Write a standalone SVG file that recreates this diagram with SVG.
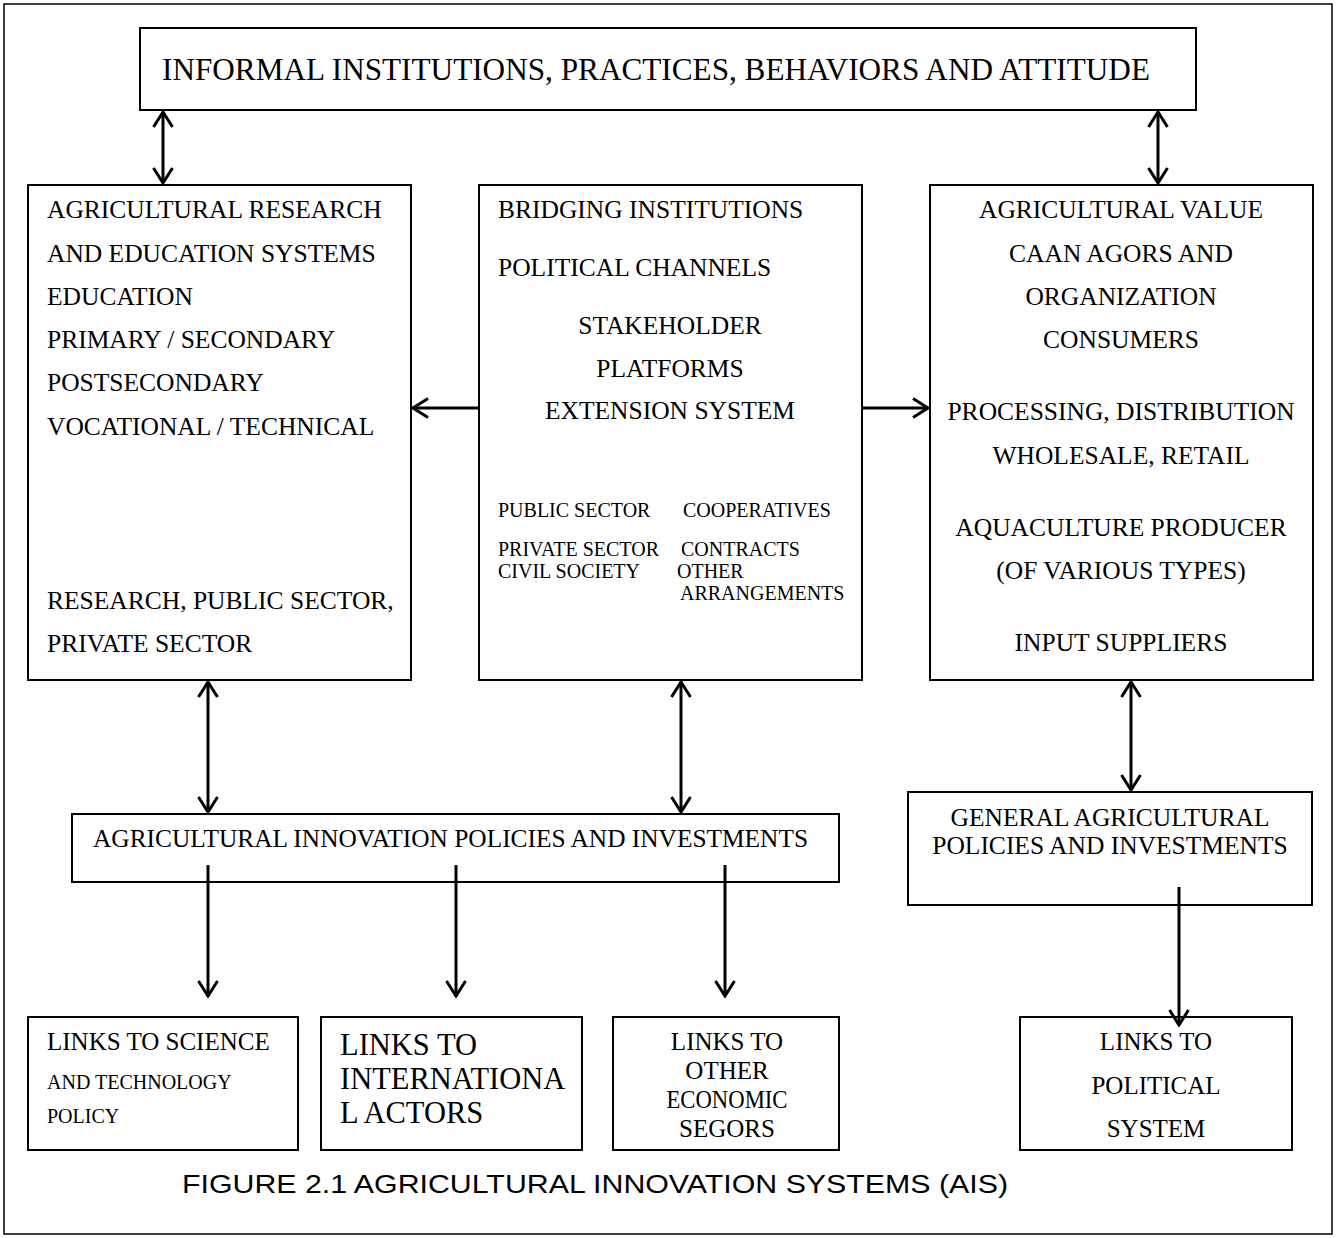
<svg xmlns="http://www.w3.org/2000/svg" width="1336" height="1238" viewBox="0 0 1336 1238">
<style>
.box{fill:#fff;stroke:#000;stroke-width:2}
.t{font-family:"Liberation Serif","Times New Roman",serif;fill:#000}
.m{font-size:25.5px}
.s{font-size:20px}
.c{text-anchor:middle}
.conn{stroke:#000;stroke-width:3;fill:none}
</style>
<defs>
<marker id="ah" viewBox="0 0 20 22" refX="18" refY="11" markerWidth="20" markerHeight="22" markerUnits="userSpaceOnUse" orient="auto-start-reverse">
<path d="M3,1.5 L18,11 L3,20.5" fill="none" stroke="#000" stroke-width="3"/>
</marker>
</defs>
<rect x="0" y="0" width="1336" height="1238" fill="#fff"/>
<rect id="frame" x="4" y="4" width="1328" height="1230" fill="none" stroke="#000" stroke-width="1.5"/>

<g id="informal">
<rect class="box" x="140" y="28" width="1056" height="82"/>
<text class="t" x="162" y="80" font-size="30.5" textLength="988" lengthAdjust="spacingAndGlyphs">INFORMAL INSTITUTIONS, PRACTICES, BEHAVIORS AND ATTITUDE</text>
</g>

<g id="research">
<rect class="box" x="28" y="185" width="383" height="495"/>
<text class="t m" x="47" y="218">AGRICULTURAL RESEARCH</text>
<text class="t m" x="47" y="262">AND EDUCATION SYSTEMS</text>
<text class="t m" x="47" y="305">EDUCATION</text>
<text class="t m" x="47" y="348">PRIMARY / SECONDARY</text>
<text class="t m" x="47" y="391">POSTSECONDARY</text>
<text class="t m" x="47" y="435">VOCATIONAL / TECHNICAL</text>
<text class="t m" x="47" y="609">RESEARCH, PUBLIC SECTOR,</text>
<text class="t m" x="47" y="652">PRIVATE SECTOR</text>
</g>

<g id="bridging">
<rect class="box" x="479" y="185" width="383" height="495"/>
<text class="t m" x="498" y="218">BRIDGING INSTITUTIONS</text>
<text class="t m" x="498" y="276">POLITICAL CHANNELS</text>
<text class="t m c" x="670" y="334">STAKEHOLDER</text>
<text class="t m c" x="670" y="377">PLATFORMS</text>
<text class="t m c" x="670" y="419">EXTENSION SYSTEM</text>
<text class="t s" x="498" y="517">PUBLIC SECTOR</text>
<text class="t s" x="683" y="517">COOPERATIVES</text>
<text class="t s" x="498" y="556">PRIVATE SECTOR</text>
<text class="t s" x="681" y="556">CONTRACTS</text>
<text class="t s" x="498" y="578">CIVIL SOCIETY</text>
<text class="t s" x="677" y="578">OTHER</text>
<text class="t s" x="680" y="600">ARRANGEMENTS</text>
</g>

<g id="value">
<rect class="box" x="930" y="185" width="383" height="495"/>
<text class="t m c" x="1121" y="218">AGRICULTURAL VALUE</text>
<text class="t m c" x="1121" y="262">CAAN AGORS AND</text>
<text class="t m c" x="1121" y="305">ORGANIZATION</text>
<text class="t m c" x="1121" y="348">CONSUMERS</text>
<text class="t m c" x="1121" y="420">PROCESSING, DISTRIBUTION</text>
<text class="t m c" x="1121" y="464">WHOLESALE, RETAIL</text>
<text class="t m c" x="1121" y="536">AQUACULTURE PRODUCER</text>
<text class="t m c" x="1121" y="579">(OF VARIOUS TYPES)</text>
<text class="t m c" x="1121" y="651">INPUT SUPPLIERS</text>
</g>

<g id="innovation-policies">
<rect class="box" x="72" y="814" width="767" height="68"/>
<text class="t" x="93" y="847" font-size="25" textLength="715" lengthAdjust="spacingAndGlyphs">AGRICULTURAL INNOVATION POLICIES AND INVESTMENTS</text>
</g>

<g id="general-policies">
<rect class="box" x="908" y="792" width="404" height="113"/>
<text class="t m c" x="1110" y="826">GENERAL AGRICULTURAL</text>
<text class="t m c" x="1110" y="854">POLICIES AND INVESTMENTS</text>
</g>

<g id="links-science">
<rect class="box" x="28" y="1017" width="270" height="133"/>
<text class="t" x="47" y="1050" font-size="25">LINKS TO SCIENCE</text>
<text class="t s" x="47" y="1089">AND TECHNOLOGY</text>
<text class="t s" x="47" y="1123">POLICY</text>
</g>

<g id="links-international">
<rect class="box" x="321" y="1017" width="261" height="133"/>
<text class="t" x="340" y="1055" font-size="30.5">LINKS TO</text>
<text class="t" x="340" y="1089" font-size="30.5">INTERNATIONA</text>
<text class="t" x="340" y="1123" font-size="30.5">L ACTORS</text>
</g>

<g id="links-economic">
<rect class="box" x="613" y="1017" width="226" height="133"/>
<text class="t c" x="727" y="1050" font-size="25">LINKS TO</text>
<text class="t c" x="727" y="1079" font-size="25">OTHER</text>
<text class="t c" x="727" y="1108" font-size="25" textLength="121" lengthAdjust="spacingAndGlyphs">ECONOMIC</text>
<text class="t c" x="727" y="1137" font-size="25">SEGORS</text>
</g>

<g id="links-political">
<rect class="box" x="1020" y="1017" width="272" height="133"/>
<text class="t c" x="1156" y="1050" font-size="25">LINKS TO</text>
<text class="t c" x="1156" y="1094" font-size="25">POLITICAL</text>
<text class="t c" x="1156" y="1137" font-size="25">SYSTEM</text>
</g>

<g id="connectors">
<line class="conn" x1="163" y1="112" x2="163" y2="183" marker-start="url(#ah)" marker-end="url(#ah)"/>
<line class="conn" x1="1158" y1="112" x2="1158" y2="183" marker-start="url(#ah)" marker-end="url(#ah)"/>
<line class="conn" x1="479" y1="408" x2="413" y2="408" marker-end="url(#ah)"/>
<line class="conn" x1="862" y1="408" x2="928" y2="408" marker-end="url(#ah)"/>
<line class="conn" x1="208" y1="682" x2="208" y2="812" marker-start="url(#ah)" marker-end="url(#ah)"/>
<line class="conn" x1="681" y1="682" x2="681" y2="812" marker-start="url(#ah)" marker-end="url(#ah)"/>
<line class="conn" x1="1131" y1="682" x2="1131" y2="790" marker-start="url(#ah)" marker-end="url(#ah)"/>
<line class="conn" x1="208" y1="865" x2="208" y2="996" marker-end="url(#ah)"/>
<line class="conn" x1="456" y1="865" x2="456" y2="996" marker-end="url(#ah)"/>
<line class="conn" x1="725" y1="865" x2="725" y2="996" marker-end="url(#ah)"/>
<line class="conn" x1="1179" y1="887" x2="1179" y2="1025" marker-end="url(#ah)"/>
</g>

<text id="caption" x="182" y="1193" font-family="Liberation Sans, Arial, sans-serif" font-size="26" fill="#000" textLength="826" lengthAdjust="spacingAndGlyphs">FIGURE 2.1 AGRICULTURAL INNOVATION SYSTEMS (AIS)</text>
</svg>
